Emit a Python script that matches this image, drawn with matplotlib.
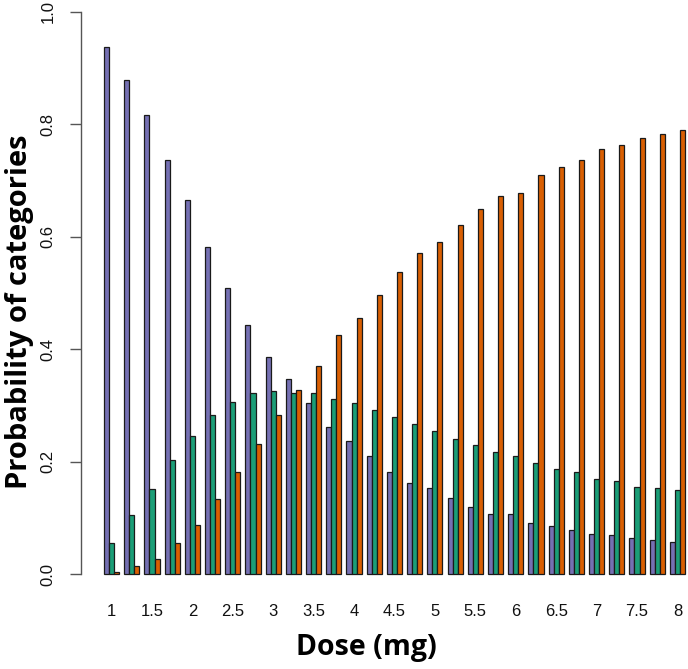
import numpy as np
import matplotlib
matplotlib.use('Agg')
import matplotlib.pyplot as plt

# dose groups (mg) and the probability of each category
doses = [1, 1.25, 1.5, 1.75, 2, 2.25, 2.5, 2.75, 3, 3.25, 3.5, 3.75, 4, 4.25, 4.5,
         4.75, 5, 5.25, 5.5, 5.75, 6, 6.25, 6.5, 6.75, 7, 7.25, 7.5, 7.75, 8]
purple = [0.937, 0.879, 0.817, 0.736, 0.666, 0.582, 0.509, 0.444, 0.387, 0.348,
          0.304, 0.261, 0.237, 0.210, 0.182, 0.163, 0.153, 0.136, 0.120, 0.108,
          0.108, 0.091, 0.085, 0.079, 0.072, 0.069, 0.064, 0.061, 0.058]
green = [0.056, 0.105, 0.152, 0.204, 0.246, 0.283, 0.307, 0.323, 0.326, 0.323,
         0.323, 0.312, 0.305, 0.292, 0.279, 0.268, 0.255, 0.241, 0.229, 0.218,
         0.211, 0.197, 0.188, 0.181, 0.169, 0.165, 0.156, 0.153, 0.149]
orange = [0.004, 0.014, 0.028, 0.056, 0.087, 0.133, 0.182, 0.231, 0.284, 0.327,
          0.371, 0.426, 0.456, 0.497, 0.537, 0.571, 0.591, 0.621, 0.650, 0.672,
          0.677, 0.709, 0.724, 0.736, 0.756, 0.763, 0.776, 0.783, 0.790]
yticks = [0.0, 0.2, 0.4, 0.6, 0.8, 1.0]

W, H = 688, 669
fig = plt.figure(figsize=(W/100, H/100), dpi=100)

# axes: left edge at the y axis line, bottom a bit under the baseline
ax_left, ax_bottom_px = 80.7, 590
ax = fig.add_axes([ax_left/W, (H-ax_bottom_px)/H, 1-ax_left/W, ax_bottom_px/H])

# R style barplot, beside=TRUE, space=c(0,1)
n = len(doses)
base = np.arange(n)*4 + 1
cols = ['#7570B3', '#1B9E77', '#D95F02']
for k, (vals, c) in enumerate(zip([purple, green, orange], cols)):
    ax.bar(base + k + 0.5, vals, width=1, color=c, edgecolor='#1a1a1a', linewidth=0.9)

# y: 0 at 574.3px, 1 at 11.7px
ppu = 574.3 - 11.7
ax.set_ylim(-(ax_bottom_px-574.3)/ppu, 1 + 11.7/ppu)
ax.set_xlim(-3.61, 116.6)

for s in ['top', 'right', 'bottom']:
    ax.spines[s].set_visible(False)
ax.spines['left'].set_bounds(0, 1)
ax.spines['left'].set_color('#555555')
ax.spines['left'].set_linewidth(1.0)

ax.set_yticks(yticks)
ax.set_yticklabels([f'{t:.1f}' for t in yticks], rotation=90, va='center',
                   fontsize=12, family='Liberation Sans', color='#111111')
ax.tick_params(axis='y', length=8, width=1.0, color='#555555', pad=10)

centers = base + 1.5
ax.set_xticks(centers[::2])
ax.set_xticklabels([f'{d:g}' for d in doses[::2]], fontsize=12,
                   family='Liberation Sans', color='#111111')
ax.tick_params(axis='x', length=0, pad=10)

fig.text(366/W, 1-647/H, 'Dose (mg)', ha='center', va='center',
         fontsize=20.5, fontweight='bold', family='Open Sans')
fig.text(20/W, 1-312/H, 'Probability of categories', ha='center', va='center',
         rotation=90, fontsize=21, fontweight='bold', family='Open Sans')

fig.savefig('out.png', dpi=100)
